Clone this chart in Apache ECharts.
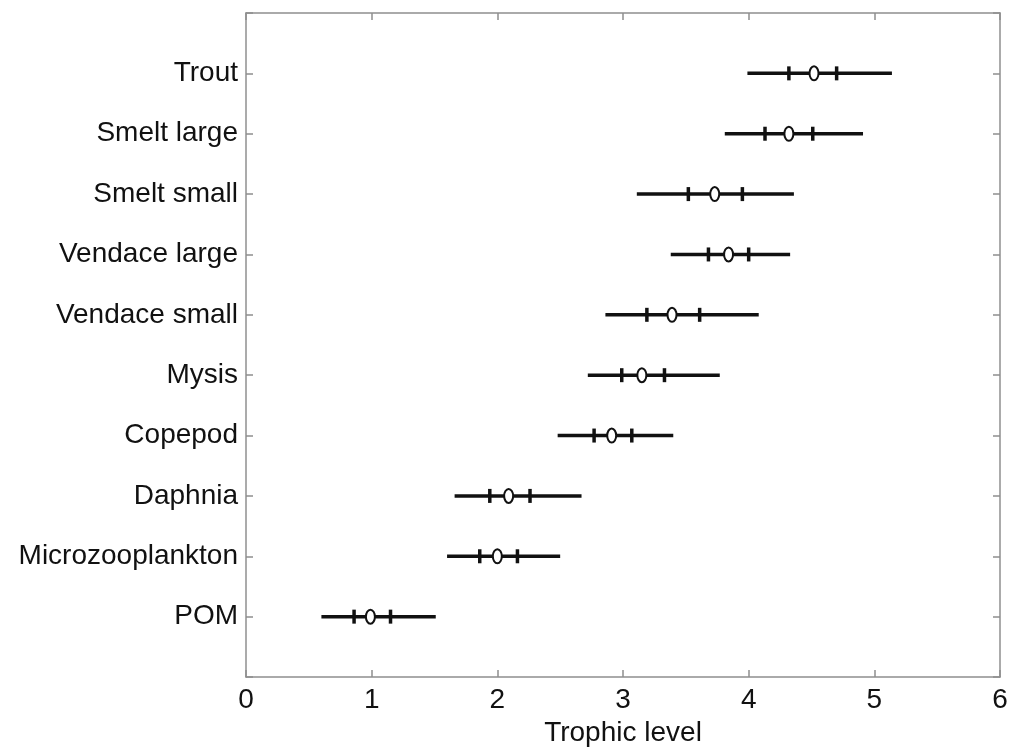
<!DOCTYPE html>
<html>
<head>
<meta charset="utf-8">
<script src="https://cdn.jsdelivr.net/npm/echarts@6/dist/echarts.min.js"></script>
<style>
html,body{margin:0;padding:0;background:#fff;}
#chart{width:1015px;height:751px;}
</style>
</head>
<body>
<div id="chart"></div>
<script>
// categories from bottom (position 1) to top (position 10)
var categories = ['POM','Microzooplankton','Daphnia','Copepod','Mysis','Vendace small','Vendace large','Smelt small','Smelt large','Trout'];
var lowValues    = [0.60, 1.60, 1.66, 2.48, 2.72, 2.86, 3.38, 3.11, 3.81, 3.99];
var q1Values     = [0.86, 1.86, 1.94, 2.77, 2.99, 3.19, 3.68, 3.52, 4.13, 4.32];
var medianValues = [0.99, 2.00, 2.09, 2.91, 3.15, 3.39, 3.84, 3.73, 4.32, 4.52];
var q3Values     = [1.15, 2.16, 2.26, 3.07, 3.33, 3.61, 4.00, 3.95, 4.51, 4.70];
var highValues   = [1.51, 2.50, 2.67, 3.40, 3.77, 4.08, 4.33, 4.36, 4.91, 5.14];
var xTicks = [0, 1, 2, 3, 4, 5, 6];

var data = categories.map(function (c, i) {
  return [i + 1, lowValues[i], q1Values[i], medianValues[i], q3Values[i], highValues[i]];
});

var chart = echarts.init(document.getElementById('chart'), null, {renderer: 'canvas'});
var axisColor = '#8f8f8f';
var textColor = '#111';
var font = "'Liberation Sans', Arial, Helvetica, sans-serif";

function frameAxis(extra) {
  var base = {
    axisLine: {show: true, onZero: false, lineStyle: {color: axisColor, width: 1.5}},
    axisTick: {show: true, inside: true, length: 7, lineStyle: {color: axisColor, width: 1.5}},
    splitLine: {show: false}
  };
  for (var k in extra) base[k] = extra[k];
  return base;
}

var option = {
  backgroundColor: '#fff',
  animation: false,
  grid: {left: 246, right: 15, top: 13, bottom: 74, containLabel: false, outerBoundsMode: 'none'},
  xAxis: [frameAxis({
    type: 'value', min: xTicks[0], max: xTicks[xTicks.length - 1], interval: 1,
    position: 'bottom',
    name: 'Trophic level', nameLocation: 'middle', nameGap: 37,
    nameTextStyle: {fontFamily: font, fontSize: 28, color: textColor},
    axisLabel: {fontFamily: font, fontSize: 28, color: textColor, margin: 9}
  }), frameAxis({
    type: 'value', min: xTicks[0], max: xTicks[xTicks.length - 1], interval: 1,
    position: 'top',
    axisLabel: {show: false}
  })],
  yAxis: [frameAxis({
    type: 'value', min: 0, max: categories.length + 1, interval: 1,
    position: 'left',
    axisLabel: {
      fontFamily: font, fontSize: 28, color: textColor, margin: 8, padding: [4, 0, 0, 0],
      formatter: function (v) { return categories[v - 1] || ''; }
    }
  }), frameAxis({
    type: 'value', min: 0, max: categories.length + 1, interval: 1,
    position: 'right',
    axisLabel: {show: false}
  })],
  series: [{
    type: 'custom',
    xAxisIndex: 0, yAxisIndex: 0,
    data: data,
    renderItem: function (params, api) {
      var y = api.value(0);
      var pLow = api.coord([api.value(1), y]);
      var pQ1 = api.coord([api.value(2), y]);
      var pMed = api.coord([api.value(3), y]);
      var pQ3 = api.coord([api.value(4), y]);
      var pHigh = api.coord([api.value(5), y]);
      var black = '#111';
      return {
        type: 'group',
        children: [
          {type: 'line', shape: {x1: pLow[0], y1: pLow[1], x2: pHigh[0], y2: pHigh[1]},
           style: {stroke: black, lineWidth: 3.5}},
          {type: 'line', shape: {x1: pQ1[0], y1: pQ1[1] - 7, x2: pQ1[0], y2: pQ1[1] + 7},
           style: {stroke: black, lineWidth: 3.5}},
          {type: 'line', shape: {x1: pQ3[0], y1: pQ3[1] - 7, x2: pQ3[0], y2: pQ3[1] + 7},
           style: {stroke: black, lineWidth: 3.5}},
          {type: 'ellipse', shape: {cx: pMed[0], cy: pMed[1], rx: 4.5, ry: 7},
           style: {stroke: black, lineWidth: 2, fill: '#fff'}}
        ]
      };
    }
  }]
};
chart.setOption(option);
</script>
</body>
</html>
